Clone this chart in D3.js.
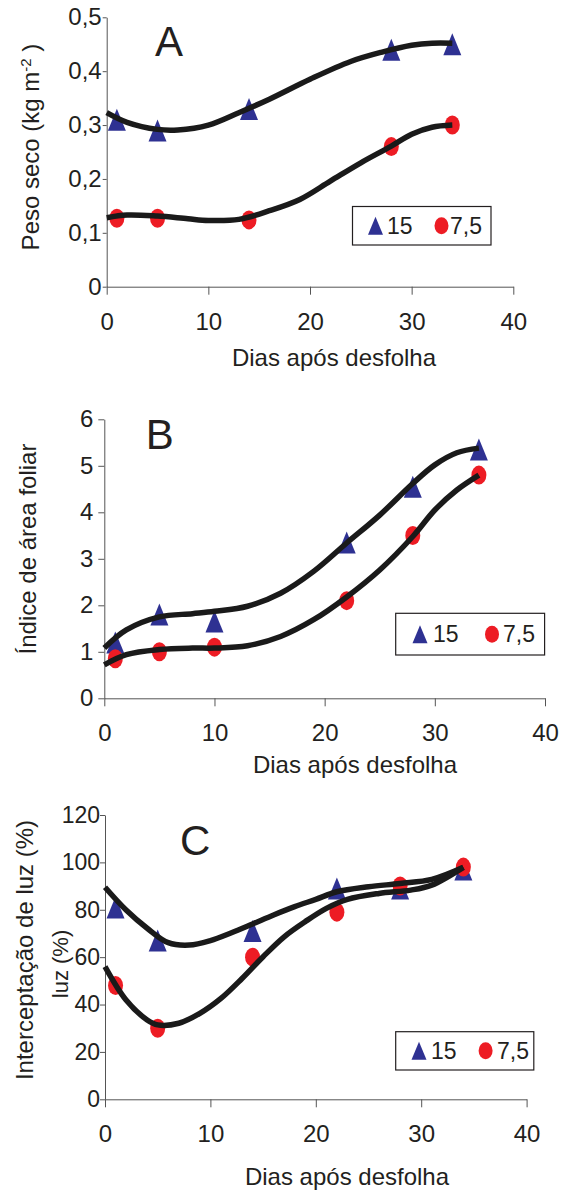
<!DOCTYPE html>
<html>
<head>
<meta charset="utf-8">
<script src="https://cdn.jsdelivr.net/npm/d3@7"></script>
<style>
  body { margin: 0; background: #fff; }
  text { font-family: "Liberation Sans", Arial, sans-serif; fill: #231f20; }
</style>
</head>
<body>
<div id="chart"></div>
<script>
// ---- data ----
const seriesNames = ["15", "7,5"];
const xTicks = [0, 10, 20, 30, 40];

// A - peso seco
const daysA = [1, 5, 14, 28, 34];
const pesoSeco15 = [0.31, 0.29, 0.33, 0.44, 0.45];
const pesoSeco75 = [0.127, 0.127, 0.124, 0.26, 0.30];
const fitDaysA15 = [0, 2, 5, 7, 10, 13, 16, 20, 24, 27, 30, 32, 34];
const fitPeso15 = [0.323, 0.305, 0.292, 0.291, 0.300, 0.323, 0.348, 0.385, 0.418, 0.435, 0.448, 0.452, 0.452];
const fitDaysA75 = [0, 2, 5, 8, 10, 13, 16, 19, 22, 25, 28, 30, 32, 34];
const fitPeso75 = [0.128, 0.133, 0.131, 0.126, 0.123, 0.125, 0.141, 0.162, 0.196, 0.230, 0.261, 0.283, 0.296, 0.300];
const yTicksA = [0, 0.1, 0.2, 0.3, 0.4, 0.5];

// B - indice de area foliar
const daysB = [1, 5, 10, 22, 28, 34];
const iaf15 = [1.2, 1.8, 1.65, 3.35, 4.55, 5.35];
const iaf75 = [0.85, 1.0, 1.1, 2.1, 3.5, 4.8];
const fitDaysB = [0, 2, 5, 8, 10, 13, 16, 19, 22, 25, 28, 30, 32, 34];
const fitIaf15 = [1.08, 1.47, 1.75, 1.82, 1.87, 1.98, 2.26, 2.73, 3.34, 3.94, 4.62, 5.02, 5.28, 5.38];
const fitIaf75 = [0.72, 0.94, 1.05, 1.08, 1.08, 1.13, 1.33, 1.69, 2.18, 2.76, 3.48, 4.05, 4.48, 4.80];
const yTicksB = [0, 1, 2, 3, 4, 5, 6];

// C - interceptacao de luz
const daysC = [1, 5, 14, 22, 28, 34];
const luz15 = [81, 67, 71, 89, 89, 97];
const luz75 = [48, 30, 60, 79, 90, 98];
const fitDaysC15 = [0, 2, 4, 6, 8, 10, 12, 14, 16, 18, 20, 22, 25, 28, 31, 34];
const fitLuz15 = [89.5, 79.9, 72.2, 66.1, 65.1, 67, 70.3, 74, 77.8, 81.3, 84.4, 87.6, 89.7, 91.1, 92.8, 97.9];
const fitDaysC75 = [0, 2, 4, 5, 7, 9, 11, 13, 15, 17, 19, 21, 23, 26, 29, 31, 34];
const fitLuz75 = [56, 41.9, 33.5, 31.4, 32.1, 36.3, 42.6, 51, 60.2, 68.6, 75, 80.6, 84.4, 86.9, 88.3, 90.4, 97.9];
const yTicksC = [0, 20, 40, 60, 80, 100, 120];

const width = 564;
const height = 1193;
const blue = "#2e3192";
const red = "#ed1c24";

let svg = d3.select("#chart")
    .append("svg")
    .attr("width", width)
    .attr("height", height);

const ptBR = d3.formatLocale({decimal: ",", thousands: ".", grouping: [3], currency: ["R$", ""]});

function triangle(x, y, w, h) {
    return `M${x},${y - h / 2}L${x + w / 2},${y + h / 2}L${x - w / 2},${y + h / 2}Z`;
}

function drawPanel(p) {
    let xScale = d3.scaleLinear().domain([0, 40]).range([p.left, p.right]);
    let yScale = d3.scaleLinear().domain([0, p.yMax]).range([p.bottom, p.top]);

    let g = svg.append("g");

    let xAxis = g.append("g")
        .attr("transform", `translate(0,${p.bottom})`)
        .call(d3.axisBottom(xScale).tickValues(xTicks).tickSize(8).tickSizeOuter(0).tickPadding(18));

    let yAxis = g.append("g")
        .attr("transform", `translate(${p.left},0)`)
        .call(d3.axisLeft(yScale).tickValues(p.yTicks).tickFormat(p.fmt)
            .tickSize(p.tick).tickSizeOuter(0).tickPadding(p.pad));

    g.selectAll(".domain, .tick line").attr("stroke", "#555").attr("stroke-width", 1);
    xAxis.selectAll(".tick text").style("font-size", "24px");
    yAxis.selectAll(".tick text").style("font-size", p.tickFont + "px");

    // markers first, fitted lines drawn over them
    g.selectAll(".tri")
        .data(d3.zip(p.days, p.s15))
        .enter()
        .append("path")
        .attr("fill", blue)
        .attr("d", d => triangle(xScale(d[0]), yScale(d[1]), 18, 22));

    g.selectAll(".dot")
        .data(d3.zip(p.days, p.s75))
        .enter()
        .append("ellipse")
        .attr("fill", red)
        .attr("cx", d => xScale(d[0]))
        .attr("cy", d => yScale(d[1]))
        .attr("rx", 7.5)
        .attr("ry", 9.5);

    let line = d3.line()
        .curve(d3.curveCatmullRom.alpha(0.5))
        .x(d => xScale(d[0]))
        .y(d => yScale(d[1]));

    [d3.zip(p.fx15, p.f15), d3.zip(p.fx75, p.f75)].forEach(pts => {
        g.append("path")
            .attr("fill", "none")
            .attr("stroke", "#1a1a1a")
            .attr("stroke-width", 5.5)
            .attr("stroke-linecap", "butt")
            .attr("stroke-linejoin", "round")
            .attr("d", line(pts));
    });

    // panel letter
    g.append("text")
        .attr("x", p.letterX)
        .attr("y", p.letterY)
        .style("font-size", "42px")
        .text(p.letter);

    // x title
    g.append("text")
        .attr("x", p.xTitleX)
        .attr("y", p.xTitleY)
        .attr("text-anchor", "middle")
        .style("font-size", "24px")
        .text("Dias após desfolha");

    // y title
    let yt = g.append("text")
        .attr("text-anchor", "middle")
        .attr("transform", `translate(${p.yTitleX},${p.yTitleY}) rotate(-90)`)
        .style("font-size", "24px");
    p.yTitle(yt);

    // legend
    let L = p.legend;
    let lg = g.append("g");
    lg.append("rect")
        .attr("x", L.x0).attr("y", L.y0)
        .attr("width", L.x1 - L.x0).attr("height", L.y1 - L.y0)
        .attr("fill", "#fff").attr("stroke", "#231f20").attr("stroke-width", 1.2);
    let cy = (L.y0 + L.y1) / 2;
    lg.append("path").attr("fill", blue).attr("d", triangle(L.tri, cy, 15, 18));
    lg.append("ellipse").attr("fill", red).attr("cx", L.dot).attr("cy", cy).attr("rx", 7).attr("ry", 8.5);
    lg.append("text").attr("x", L.t1).attr("y", L.base).style("font-size", "23px").text(seriesNames[0]);
    lg.append("text").attr("x", L.t2).attr("y", L.base).style("font-size", "23px").text(seriesNames[1]);

    return g;
}

drawPanel({
    left: 106.7, right: 513.3, top: 17.3, bottom: 286.7, yMax: 0.5,
    yTicks: yTicksA, fmt: ptBR.format(".1~f"), tick: 4, pad: 1, tickFont: 24,
    days: daysA, s15: pesoSeco15, s75: pesoSeco75,
    fx15: fitDaysA15, f15: fitPeso15, fx75: fitDaysA75, f75: fitPeso75,
    letter: "A", letterX: 155, letterY: 56,
    xTitleX: 334, xTitleY: 366,
    yTitleX: 39, yTitleY: 147,
    yTitle: t => {
        t.append("tspan").text("Peso seco (kg m");
        t.append("tspan").attr("dy", "-0.55em").style("font-size", "15px").text("-2");
        t.append("tspan").attr("dy", "0.36em").text(" )");
    },
    legend: {x0: 352.5, x1: 491, y0: 206.5, y1: 245, tri: 375.5, dot: 441.5, t1: 387, t2: 450, base: 234}
});

drawPanel({
    left: 104.3, right: 545, top: 419.3, bottom: 698.3, yMax: 6,
    yTicks: yTicksB, fmt: d3.format("d"), tick: 6, pad: 5, tickFont: 24,
    days: daysB, s15: iaf15, s75: iaf75,
    fx15: fitDaysB, f15: fitIaf15, fx75: fitDaysB, f75: fitIaf75,
    letter: "B", letterX: 145.7, letterY: 449.3,
    xTitleX: 355, xTitleY: 773.3,
    yTitleX: 36, yTitleY: 549,
    yTitle: t => t.text("Índice de área foliar"),
    legend: {x0: 395.7, x1: 544.6, y0: 613.3, y1: 655, tri: 420, dot: 492, t1: 433, t2: 503, base: 642}
});

drawPanel({
    left: 105, right: 526.6, top: 815, bottom: 1099.3, yMax: 120,
    yTicks: yTicksC, fmt: d3.format("d"), tick: 5, pad: 0, tickFont: 23,
    days: daysC, s15: luz15, s75: luz75,
    fx15: fitDaysC15, f15: fitLuz15, fx75: fitDaysC75, f75: fitLuz75,
    letter: "C", letterX: 180, letterY: 855,
    xTitleX: 347, xTitleY: 1185,
    yTitleX: 33, yTitleY: 950,
    yTitle: t => t.text("Interceptação de luz (%)"),
    legend: {x0: 395.7, x1: 533.8, y0: 1031.7, y1: 1070, tri: 419, dot: 485.6, t1: 431, t2: 497, base: 1058.5}
});

// stray duplicated title fragment visible in panel C
svg.append("text")
    .attr("text-anchor", "middle")
    .attr("transform", "translate(68,964) rotate(-90)")
    .style("font-size", "22px")
    .text("luz (%)");
</script>
</body>
</html>
